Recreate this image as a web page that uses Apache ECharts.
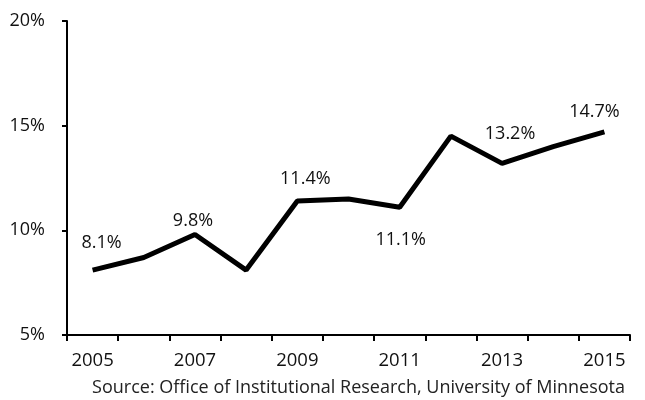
<!doctype html>
<html>
<head>
<meta charset="utf-8">
<title>rate</title>
<style>
html, body { margin: 0; padding: 0; background: #fff; }
#main { width: 645px; height: 400px; }
</style>
</head>
<body>
<div id="main"></div>
<script src="https://cdn.jsdelivr.net/npm/echarts@6/dist/echarts.min.js"></script>
<script>
var years = ['2005', '2006', '2007', '2008', '2009', '2010', '2011', '2012', '2013', '2014', '2015'];
var rates = [8.1, 8.7, 9.8, 8.1, 11.4, 11.5, 11.1, 14.5, 13.2, 14.0, 14.7];
// which points get a label, and where it sits relative to the point
var labelled = [0, 2, 4, 6, 8, 10];
var labelOffsets = {0: [9, -27], 2: [-2, -14], 4: [8, -22], 6: [1, 33], 8: [8, -29], 10: [-10, -20]};

var font = 'Open Sans';
var seriesData = [];
for (var i = 0; i < rates.length; i++) {
	var item = { value: rates[i] };
	if (labelled.indexOf(i) >= 0) {
		item.label = {
			show: true,
			position: 'inside',
			offset: labelOffsets[i],
			formatter: function (p) { return p.value.toFixed(1) + '%'; }
		};
	}
	seriesData.push(item);
}

var myChart = echarts.init(document.getElementById('main'));
var option = {
	animation: false,
	backgroundColor: '#fff',
	grid: { left: 67, right: 15, top: 21, bottom: 65 },
	graphic: [{
		type: 'text',
		right: 20,
		top: 379,
		style: {
			text: 'Source: Office of Institutional Research, University of Minnesota',
			font: '18px "Open Sans"',
			fill: '#222'
		}
	}],
	xAxis: {
		type: 'category',
		data: years,
		boundaryGap: true,
		axisLine: { lineStyle: { color: '#000', width: 2 } },
		axisTick: { show: true, interval: 0, length: 6, lineStyle: { color: '#000', width: 2 } },
		axisLabel: { interval: 1, margin: 16, color: '#111', fontFamily: font, fontSize: 18.5 }
	},
	yAxis: {
		type: 'value',
		min: 5,
		max: 20,
		interval: 5,
		splitLine: { show: false },
		axisLine: { show: true, lineStyle: { color: '#000', width: 2 } },
		axisTick: { show: true, length: 5, lineStyle: { color: '#000', width: 2 } },
		axisLabel: { margin: 22, color: '#111', fontFamily: font, fontSize: 18 , formatter: '{value}%' }
	},
	series: [{
		type: 'line',
		data: seriesData,
		showSymbol: true,
		symbol: 'circle',
		symbolSize: 0,
		lineStyle: { color: '#000', width: 5 },
		itemStyle: { color: '#000' },
		label: { color: '#111', fontFamily: font, fontSize: 18 }
	}]
};
myChart.setOption(option);
</script>
</body>
</html>
